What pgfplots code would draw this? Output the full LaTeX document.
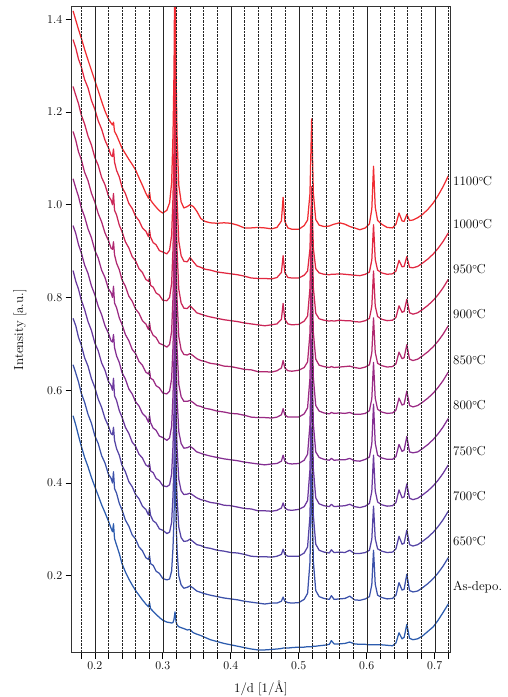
\documentclass[border=0pt]{standalone}
\usepackage{pgfplots}
\pgfplotsset{compat=1.18}
\usepackage{pgfplotstable}

\definecolor{cAs}{RGB}{44,92,174}
\definecolor{cSixFifty}{RGB}{60,82,170}
\definecolor{cSeven}{RGB}{84,68,165}
\definecolor{cSevenFifty}{RGB}{108,56,158}
\definecolor{cEight}{RGB}{132,46,146}
\definecolor{cEightFifty}{RGB}{154,42,132}
\definecolor{cNine}{RGB}{176,40,112}
\definecolor{cNineFifty}{RGB}{202,38,88}
\definecolor{cThousand}{RGB}{226,40,64}
\definecolor{cEleven}{RGB}{240,44,50}

% offset spectra, columns: As-depo, 650, 700, 750, 800, 850, 900, 950, 1000, 1100 C
\pgfplotstableread{
x c0 c1 c2 c3 c4 c5 c6 c7 c8 c9
0.168 0.545 0.655 0.755 0.858 0.955 1.056 1.158 1.255 1.356 1.418
0.172 0.525 0.637 0.739 0.835 0.938 1.036 1.139 1.236 1.338 1.398
0.176 0.502 0.618 0.714 0.818 0.914 1.018 1.114 1.218 1.314 1.378
0.180 0.480 0.594 0.698 0.795 0.897 0.994 1.098 1.194 1.298 1.360
0.185 0.455 0.574 0.670 0.774 0.870 0.974 1.070 1.174 1.270 1.335
0.190 0.435 0.548 0.652 0.748 0.852 0.948 1.052 1.148 1.252 1.312
0.195 0.412 0.529 0.625 0.729 0.825 0.929 1.025 1.129 1.225 1.290
0.200 0.392 0.502 0.606 0.702 0.806 0.902 1.006 1.102 1.206 1.268
0.205 0.373 0.485 0.581 0.685 0.781 0.885 0.981 1.085 1.181 1.246
0.210 0.353 0.459 0.563 0.659 0.763 0.859 0.963 1.059 1.163 1.223
0.215 0.336 0.443 0.539 0.643 0.739 0.843 0.939 1.043 1.139 1.202
0.220 0.318 0.419 0.523 0.619 0.723 0.819 0.923 1.019 1.123 1.185
0.224 0.302 0.410 0.506 0.610 0.706 0.810 0.906 1.010 1.106 1.176
0.226 0.295 0.400 0.504 0.600 0.704 0.800 0.904 1.000 1.104 1.172
0.2275 0.312 0.424 0.520 0.626 0.720 0.824 0.920 1.024 1.120 1.178
0.229 0.280 0.388 0.492 0.588 0.692 0.788 0.892 0.988 1.092 1.158
0.232 0.266 0.378 0.474 0.578 0.674 0.778 0.874 0.978 1.074 1.150
0.236 0.248 0.356 0.460 0.556 0.660 0.756 0.860 0.956 1.060 1.136
0.240 0.226 0.342 0.438 0.542 0.638 0.742 0.838 0.942 1.038 1.122
0.245 0.208 0.320 0.424 0.520 0.624 0.720 0.824 0.920 1.024 1.110
0.250 0.193 0.307 0.403 0.507 0.603 0.707 0.803 0.907 1.003 1.098
0.255 0.180 0.288 0.392 0.488 0.592 0.688 0.792 0.888 0.992 1.087
0.260 0.168 0.279 0.375 0.479 0.575 0.679 0.775 0.879 0.975 1.075
0.265 0.158 0.262 0.366 0.462 0.566 0.662 0.766 0.862 0.966 1.058
0.270 0.148 0.254 0.350 0.454 0.550 0.654 0.750 0.854 0.950 1.042
0.275 0.139 0.239 0.343 0.439 0.543 0.639 0.743 0.839 0.943 1.025
0.279 0.133 0.235 0.331 0.435 0.531 0.635 0.731 0.835 0.931 1.014
0.2805 0.142 0.244 0.346 0.442 0.546 0.642 0.746 0.842 0.946 1.028
0.282 0.129 0.226 0.330 0.426 0.530 0.626 0.730 0.826 0.930 1.010
0.286 0.123 0.222 0.318 0.422 0.518 0.622 0.718 0.822 0.918 1.002
0.290 0.117 0.210 0.314 0.410 0.514 0.610 0.714 0.810 0.914 0.995
0.295 0.110 0.205 0.301 0.405 0.501 0.605 0.701 0.805 0.901 0.987
0.300 0.104 0.194 0.298 0.394 0.498 0.594 0.698 0.794 0.898 0.982
0.306 0.100 0.191 0.291 0.392 0.492 0.592 0.693 0.793 0.894 0.988
0.310 0.099 0.193 0.294 0.396 0.497 0.598 0.699 0.800 0.902 1.004
0.313 0.098 0.210 0.315 0.419 0.522 0.625 0.727 0.830 0.934 1.047
0.315 0.099 0.260 0.372 0.480 0.588 0.694 0.800 0.905 1.016 1.150
0.3165 0.106 0.323 0.443 0.558 0.673 0.783 0.893 1.003 1.123 1.286
0.318 0.122 0.472 0.612 0.742 0.872 0.992 1.112 1.232 1.372 1.596
0.3195 0.101 0.321 0.441 0.556 0.671 0.781 0.891 1.001 1.121 1.286
0.321 0.094 0.256 0.368 0.476 0.584 0.690 0.796 0.902 1.012 1.150
0.3235 0.090 0.200 0.305 0.408 0.511 0.613 0.716 0.818 0.922 1.042
0.327 0.088 0.180 0.282 0.383 0.485 0.586 0.687 0.788 0.890 1.006
0.331 0.086 0.173 0.274 0.375 0.475 0.576 0.677 0.777 0.878 0.993
0.336 0.083 0.175 0.275 0.376 0.476 0.576 0.676 0.776 0.877 0.996
0.340 0.084 0.178 0.279 0.378 0.479 0.578 0.679 0.782 0.886 1.000
0.345 0.077 0.173 0.273 0.373 0.474 0.573 0.674 0.775 0.877 0.996
0.350 0.074 0.167 0.267 0.368 0.467 0.567 0.668 0.767 0.868 0.986
0.356 0.071 0.164 0.265 0.364 0.464 0.565 0.664 0.764 0.865 0.970
0.362 0.067 0.161 0.261 0.362 0.461 0.561 0.662 0.761 0.861 0.964
0.370 0.062 0.158 0.259 0.358 0.458 0.559 0.658 0.758 0.859 0.961
0.380 0.058 0.155 0.255 0.356 0.455 0.555 0.656 0.755 0.855 0.960
0.390 0.054 0.152 0.253 0.352 0.452 0.553 0.652 0.752 0.853 0.961
0.400 0.051 0.150 0.250 0.351 0.450 0.550 0.651 0.750 0.851 0.960
0.410 0.048 0.148 0.249 0.348 0.448 0.549 0.648 0.748 0.849 0.956
0.420 0.045 0.145 0.246 0.345 0.445 0.546 0.645 0.745 0.846 0.950
0.430 0.042 0.143 0.242 0.344 0.443 0.542 0.644 0.743 0.842 0.950
0.440 0.040 0.141 0.241 0.340 0.441 0.541 0.640 0.741 0.841 0.951
0.450 0.040 0.139 0.241 0.340 0.439 0.541 0.640 0.739 0.841 0.950
0.460 0.041 0.141 0.240 0.339 0.441 0.540 0.639 0.741 0.840 0.948
0.468 0.042 0.141 0.242 0.341 0.442 0.542 0.642 0.743 0.843 0.951
0.4745 0.043 0.145 0.246 0.346 0.447 0.547 0.648 0.753 0.854 0.965
0.477 0.044 0.154 0.257 0.357 0.460 0.560 0.664 0.787 0.890 1.016
0.4795 0.044 0.145 0.246 0.346 0.447 0.547 0.648 0.753 0.854 0.964
0.484 0.044 0.142 0.242 0.342 0.442 0.542 0.642 0.743 0.843 0.950
0.490 0.045 0.141 0.242 0.341 0.441 0.542 0.641 0.741 0.842 0.947
0.500 0.046 0.142 0.242 0.343 0.442 0.542 0.643 0.742 0.842 0.947
0.508 0.046 0.149 0.249 0.349 0.449 0.549 0.649 0.749 0.848 0.955
0.513 0.047 0.162 0.262 0.362 0.462 0.562 0.661 0.760 0.857 0.967
0.5165 0.047 0.229 0.329 0.429 0.526 0.626 0.723 0.820 0.905 1.024
0.519 0.047 0.419 0.519 0.619 0.709 0.809 0.899 0.989 1.039 1.185
0.5215 0.048 0.230 0.330 0.430 0.527 0.627 0.724 0.821 0.906 1.024
0.525 0.048 0.168 0.268 0.368 0.467 0.567 0.667 0.766 0.862 0.968
0.530 0.049 0.155 0.255 0.355 0.455 0.555 0.654 0.754 0.853 0.956
0.537 0.050 0.151 0.251 0.351 0.451 0.551 0.651 0.751 0.850 0.953
0.545 0.052 0.149 0.249 0.349 0.449 0.549 0.649 0.749 0.849 0.954
0.548 0.060 0.157 0.256 0.354 0.453 0.552 0.651 0.750 0.850 0.956
0.552 0.053 0.149 0.250 0.349 0.449 0.550 0.649 0.749 0.850 0.958
0.560 0.053 0.150 0.251 0.350 0.450 0.551 0.650 0.751 0.851 0.961
0.568 0.054 0.151 0.250 0.351 0.450 0.550 0.651 0.750 0.850 0.958
0.575 0.057 0.156 0.255 0.354 0.453 0.552 0.652 0.750 0.849 0.953
0.582 0.053 0.148 0.248 0.349 0.448 0.548 0.649 0.748 0.848 0.950
0.590 0.052 0.147 0.248 0.347 0.447 0.548 0.647 0.747 0.847 0.946
0.598 0.052 0.150 0.250 0.350 0.451 0.550 0.650 0.750 0.850 0.950
0.604 0.051 0.155 0.255 0.356 0.456 0.556 0.655 0.755 0.855 0.959
0.6075 0.051 0.181 0.279 0.382 0.485 0.582 0.681 0.781 0.881 0.991
0.610 0.051 0.255 0.350 0.460 0.570 0.660 0.756 0.857 0.957 1.083
0.6125 0.051 0.182 0.280 0.383 0.486 0.583 0.682 0.782 0.882 0.995
0.616 0.051 0.158 0.258 0.359 0.460 0.559 0.658 0.759 0.859 0.966
0.622 0.051 0.153 0.253 0.353 0.454 0.553 0.653 0.753 0.853 0.958
0.630 0.050 0.150 0.250 0.350 0.451 0.550 0.650 0.750 0.850 0.951
0.638 0.049 0.151 0.251 0.351 0.451 0.551 0.651 0.751 0.851 0.950
0.643 0.055 0.158 0.258 0.358 0.457 0.557 0.657 0.757 0.857 0.958
0.6475 0.077 0.185 0.285 0.385 0.483 0.583 0.682 0.782 0.880 0.982
0.652 0.064 0.169 0.268 0.368 0.468 0.568 0.668 0.768 0.866 0.965
0.655 0.067 0.171 0.270 0.370 0.471 0.570 0.670 0.770 0.867 0.964
0.659 0.095 0.203 0.298 0.398 0.500 0.598 0.698 0.796 0.888 0.979
0.663 0.065 0.168 0.267 0.367 0.467 0.567 0.667 0.767 0.865 0.966
0.668 0.062 0.165 0.264 0.364 0.465 0.564 0.664 0.764 0.864 0.967
0.675 0.064 0.167 0.267 0.367 0.467 0.567 0.667 0.767 0.867 0.972
0.682 0.070 0.174 0.274 0.374 0.474 0.574 0.674 0.774 0.874 0.979
0.690 0.080 0.183 0.283 0.383 0.483 0.583 0.683 0.783 0.883 0.990
0.698 0.090 0.194 0.294 0.394 0.494 0.594 0.694 0.794 0.894 1.004
0.705 0.104 0.206 0.306 0.406 0.506 0.606 0.706 0.806 0.906 1.020
0.712 0.120 0.220 0.320 0.420 0.520 0.620 0.720 0.820 0.920 1.038
0.720 0.139 0.239 0.339 0.439 0.539 0.639 0.739 0.839 0.939 1.062
}\spectra

\newcommand{\degC}{${}^{\circ}$\kern-0.9pt C}
\newcommand{\lblfont}{\fontsize{13}{15}\selectfont}

\begin{document}
\begin{tikzpicture}
\begin{axis}[
  name=ax,
  scale only axis,
  width=378.3pt, height=646pt,
  xmin=0.166, xmax=0.7225,
  ymin=0.034, ymax=1.427,
  clip mode=individual,
  axis on top,
  tick label style={font=\lblfont},
  label style={font=\lblfont},
  axis line style={black!80, line width=0.7pt},
  tick align=outside,
  xtick pos=bottom, ytick pos=left,
  major tick length=6pt, minor tick length=6pt,
  tick style={black, line width=0.6pt},
  xtick={0.2,0.3,0.4,0.5,0.6,0.7},
  minor xtick={0.18,0.22,0.24,0.26,0.28,0.32,0.34,0.36,0.38,0.42,0.44,0.46,0.48,0.52,0.54,0.56,0.58,0.62,0.64,0.66,0.68,0.72},
  ytick={0.2,0.4,0.6,0.8,1.0,1.2,1.4},
  xticklabel style={/pgf/number format/fixed, /pgf/number format/precision=1},
  yticklabel style={/pgf/number format/fixed, /pgf/number format/fixed zerofill, /pgf/number format/precision=1},
  xmajorgrids, xminorgrids,
  major grid style={black!85, line width=0.4pt},
  minor grid style={black!85, densely dotted, line width=0.45pt},
  xlabel={1/d [1/\AA]},
  ylabel={Intensity [a.u.]},
  every axis x label/.style={at={(axis description cs:0.5,-0.0546)}, anchor=center, font=\lblfont},
  every axis y label/.style={at={(axis description cs:-0.1367,0.5)}, anchor=center, rotate=90, font=\lblfont},
  every axis plot/.append style={line width=1.25pt, line join=round},
]
\addplot[cAs] table[x=x, y=c0] {\spectra};
\addplot[cSixFifty] table[x=x, y=c1] {\spectra};
\addplot[cSeven] table[x=x, y=c2] {\spectra};
\addplot[cSevenFifty] table[x=x, y=c3] {\spectra};
\addplot[cEight] table[x=x, y=c4] {\spectra};
\addplot[cEightFifty] table[x=x, y=c5] {\spectra};
\addplot[cNine] table[x=x, y=c6] {\spectra};
\addplot[cNineFifty] table[x=x, y=c7] {\spectra};
\addplot[cThousand] table[x=x, y=c8] {\spectra};
\addplot[cEleven] table[x=x, y=c9] {\spectra};

\begin{scope}[every node/.style={anchor=west, inner sep=0pt, xshift=3pt, font=\lblfont}]
\node at (axis cs:0.7225,1.051) {1100\degC};
\node at (axis cs:0.7225,0.958) {1000\degC};
\node at (axis cs:0.7225,0.861) {950\degC};
\node at (axis cs:0.7225,0.764) {900\degC};
\node at (axis cs:0.7225,0.665) {850\degC};
\node at (axis cs:0.7225,0.568) {800\degC};
\node at (axis cs:0.7225,0.469) {750\degC};
\node at (axis cs:0.7225,0.372) {700\degC};
\node at (axis cs:0.7225,0.275) {650\degC};
\node at (axis cs:0.7225,0.176) {As-depo.};
\end{scope}
\end{axis}
\pgfresetboundingbox
\path ([shift={(-71.7pt,-44.3pt)}]ax.south west) rectangle ([shift={(58pt,6.7pt)}]ax.north east);
\end{tikzpicture}
\end{document}
